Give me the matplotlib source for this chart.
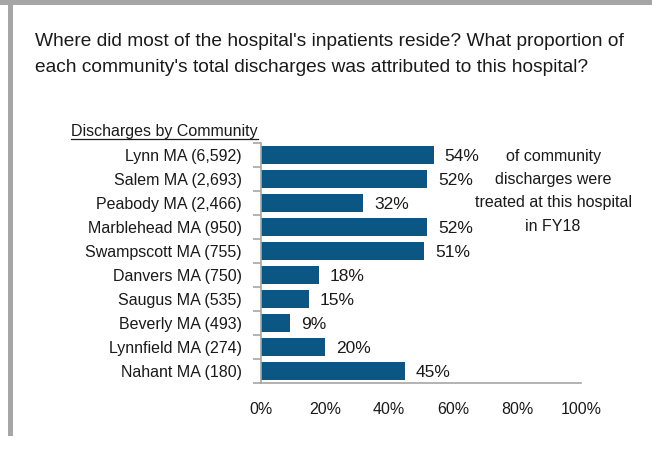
import matplotlib.pyplot as plt
import numpy as np

plt.rcParams["font.family"] = ["Liberation Sans", "DejaVu Sans"]

TITLE = ("Where did most of the hospital's inpatients reside? What proportion of\n"
         "each community's total discharges was attributed to this hospital?")
COMMUNITIES = ["Lynn MA (6,592)", "Salem MA (2,693)", "Peabody MA (2,466)",
               "Marblehead MA (950)", "Swampscott MA (755)", "Danvers MA (750)",
               "Saugus MA (535)", "Beverly MA (493)", "Lynnfield MA (274)",
               "Nahant MA (180)"]
SHARE = [54, 52, 32, 52, 51, 18, 15, 9, 20, 45]
XTICKS = [0, 20, 40, 60, 80, 100]
NOTE_LINES = ["of community", "discharges were", "treated at this hospital", "in FY18"]

BAR_COLOR = "#0b5682"
GREY = "#a6a6a6"
TXT = "#1a1a1a"

fig = plt.figure(figsize=(6.52, 4.49), dpi=100)

# grey frame on top and left
fig.add_artist(plt.Rectangle((0, 1 - 5 / 449), 1, 5 / 449, transform=fig.transFigure,
                             color=GREY, lw=0))
fig.add_artist(plt.Rectangle((8 / 652, 1 - 436 / 449), 5 / 652, 431 / 449,
                             transform=fig.transFigure, color=GREY, lw=0))

fig.text(35 / 652, 1 - 33 / 449, TITLE, fontsize=13.8, color=TXT, va="top", ha="left",
         linespacing=1.7)

# axes: x 261..581, y 143..383
ax = fig.add_axes([261 / 652, 1 - 383 / 449, 320 / 652, 240 / 449])
y = np.arange(len(COMMUNITIES))
ax.barh(y, SHARE, height=0.78, color=BAR_COLOR)
ax.set_ylim(len(COMMUNITIES) - 0.5, -0.5)
ax.set_xlim(0, 100)

for yi, v in zip(y, SHARE):
    ax.text(v + 3.4, yi + 0.08, f"{v}%", fontsize=12.5, color=TXT, va="center", ha="left")

ax.set_yticks(y)
ax.set_yticklabels(COMMUNITIES, fontsize=11.5, color=TXT)
ax.tick_params(axis="y", length=0, pad=14)
ax.set_yticks(np.arange(len(COMMUNITIES) + 1) - 0.5, minor=True)
ax.tick_params(axis="y", which="minor", length=6, color=GREY, width=1.2)

ax.set_xticks(XTICKS)
ax.set_xticklabels([f"{t}%" for t in XTICKS], fontsize=11.5, color=TXT)
ax.tick_params(axis="x", length=0, pad=14)

for s in ["top", "right"]:
    ax.spines[s].set_visible(False)
ax.spines["left"].set_color(GREY)
ax.spines["left"].set_linewidth(1.2)
ax.spines["bottom"].set_color(GREY)
ax.spines["bottom"].set_linewidth(1.2)

# side note, one text per line
for i, line in enumerate(NOTE_LINES):
    ax.text(91.3, 0.08 + i * 0.96, line, fontsize=11.5, color=TXT,
            ha="center", va="center", clip_on=False)

# underlined axis heading
head = fig.text(258 / 652, 1 - 136 / 449, "Discharges by Community", fontsize=11.5,
                color=TXT, ha="right", va="baseline")
fig.canvas.draw()
bb = head.get_window_extent().transformed(fig.transFigure.inverted())
fig.add_artist(plt.Line2D([bb.x0, bb.x1], [bb.y0 + 0.5 / 449, bb.y0 + 0.5 / 449],
                          transform=fig.transFigure, color=TXT, lw=0.9))

fig.savefig("out.png", dpi=100)
